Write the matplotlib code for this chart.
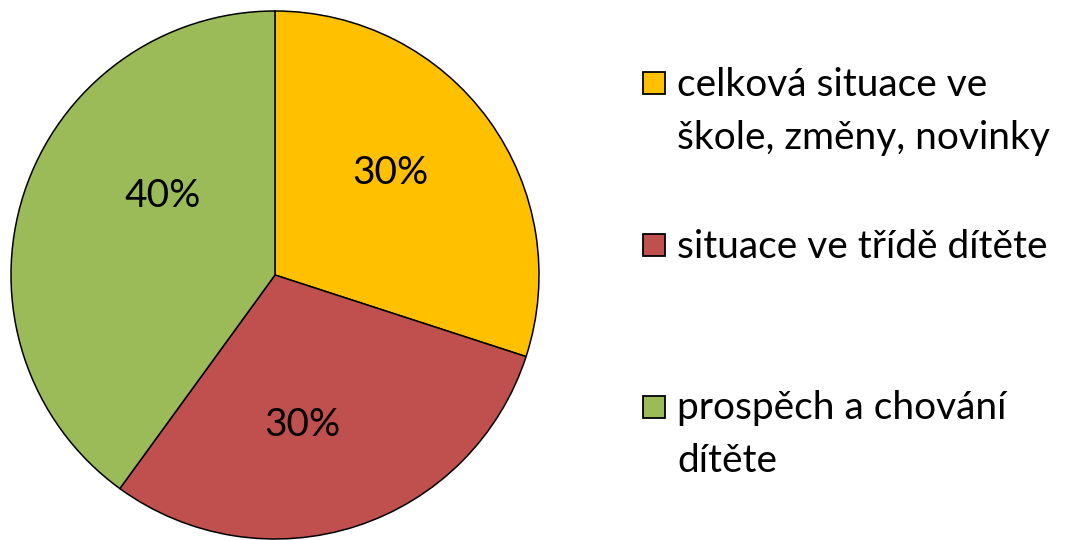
import matplotlib
matplotlib.use("Agg")
import matplotlib.pyplot as plt
from matplotlib.patches import Rectangle

plt.rcParams['font.family'] = ['Lato', 'DejaVu Sans']

# data
categories = ["celková situace ve\nškole, změny, novinky",
              "situace ve třídě dítěte",
              "prospěch a chování\ndítěte"]
shares = [30, 30, 40]
colors = ["#FFC000", "#C0504D", "#9BBB59"]

# label positions (Excel places them a bit off the wedge middles)
label_pos = [(0.436, 0.386), (0.102, -0.568), (-0.424, 0.299)]

W, H = 1065, 540
fig = plt.figure(figsize=(W / 100, H / 100), dpi=100)

##################################
# pie
cx, cy, r = 275, 275, 264
ax = fig.add_axes([(cx - r) / W, (H - cy - r) / H, 2 * r / W, 2 * r / H])
wedges, texts, autotexts = ax.pie(
    shares, colors=colors, startangle=90, counterclock=False,
    radius=1, autopct='%d%%',
    wedgeprops=dict(edgecolor='black', linewidth=1.1),
    textprops=dict(fontsize=28, color='black'))
for w in wedges:
    w.set_clip_on(False)
for t, p in zip(autotexts, label_pos):
    t.set_position(p)
ax.set_xlim(-1, 1)
ax.set_ylim(-1, 1)
ax.axis('off')

##################################
# legend drawn by hand
leg_y = [111, 247, 435]   # centre of each entry, px from top
box = 22
for lab, col, y in zip(categories, colors, leg_y):
    lines = lab.split('\n')
    first_y = y - (len(lines) - 1) * 53 / 2
    fig.patches.append(Rectangle((643 / W, (H - first_y + 2 - box / 2) / H),
                                 box / W, box / H, transform=fig.transFigure,
                                 facecolor=col, edgecolor='black', linewidth=1.3))
    for i, ln in enumerate(lines):
        fig.text(677 / W, (H - first_y - i * 53) / H, ln, fontsize=28,
                 va='center', ha='left', color='black')

fig.savefig('out.png', dpi=100)
